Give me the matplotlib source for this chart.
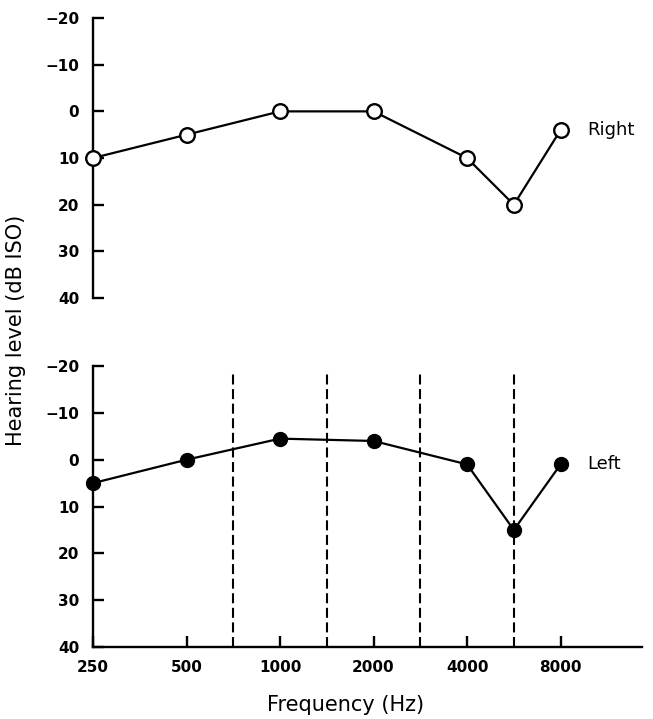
import numpy as np
import matplotlib
matplotlib.use("Agg")
import matplotlib.pyplot as plt

plt.rcParams['font.family'] = ['DejaVu Sans']

# audiogram data (dB ISO), lower values plotted higher
freqs = [250, 500, 1000, 2000, 4000, 6000, 8000]
right_ear = [10, 5, 0, 0, 10, 20, 4]
left_ear = [5, 0, -4.5, -4, 1, 15, 1]
tick_freqs = [250, 500, 1000, 2000, 4000, 8000]
mid_freqs = [750, 1500, 3000, 6000]
level_ticks = [-20, -10, 0, 10, 20, 30, 40]


def octave_pos(f):
    # audiogram convention: inter-octave frequencies sit halfway between octaves
    return np.round(np.log2(np.asarray(f) / 250.0) * 2) / 2


fig = plt.figure(figsize=(6.53, 7.19), dpi=100)
ax_top = fig.add_axes([0.1424, 0.5855, 0.8407, 0.3894])
ax_bot = fig.add_axes([0.1424, 0.1001, 0.8407, 0.3908])

for ax in (ax_top, ax_bot):
    ax.set_xlim(0, 5.87)
    ax.set_ylim(40, -20)
    ax.set_yticks(level_ticks)
    ax.set_yticklabels([str(v).replace('-', '\u2212') for v in level_ticks],
                       fontweight='bold')
    for s in ('top', 'right'):
        ax.spines[s].set_visible(False)
    ax.spines['left'].set_linewidth(1.7)
    ax.spines['bottom'].set_linewidth(1.7)
    ax.tick_params(axis='y', direction='in', length=8, width=1.7, pad=10,
                   labelsize=11)

ax_top.spines['bottom'].set_visible(False)
ax_top.set_xticks([])

ax_top.plot(octave_pos(freqs), right_ear, color='black', lw=1.6,
            marker='o', ms=10.5, mfc='white', mec='black', mew=1.7,
            clip_on=False, zorder=3)
ax_top.text(octave_pos(8000) + 0.28, right_ear[-1], 'Right', fontsize=13,
            va='center', ha='left')

ax_bot.vlines(octave_pos(mid_freqs), 40, -18.5, colors='black',
              linestyles=(0, (4.8, 2.2)), lw=1.5)
ax_bot.plot(octave_pos(freqs), left_ear, color='black', lw=1.6,
            marker='o', ms=10, mfc='black', mec='black',
            clip_on=False, zorder=3)
ax_bot.text(octave_pos(8000) + 0.28, left_ear[-1], 'Left', fontsize=13,
            va='center', ha='left')

ax_bot.set_xticks(octave_pos(tick_freqs))
ax_bot.set_xticklabels([str(f) for f in tick_freqs], fontweight='bold')
ax_bot.tick_params(axis='x', direction='in', length=8, width=1.7, pad=9,
                   labelsize=11)

fig.text(0.529, 0.02, 'Frequency (Hz)', ha='center', va='center',
         fontsize=15)
fig.text(0.025, 0.54, 'Hearing level (dB ISO)', rotation=90, ha='center',
         va='center', fontsize=15)

fig.savefig('out.png', dpi=100)
